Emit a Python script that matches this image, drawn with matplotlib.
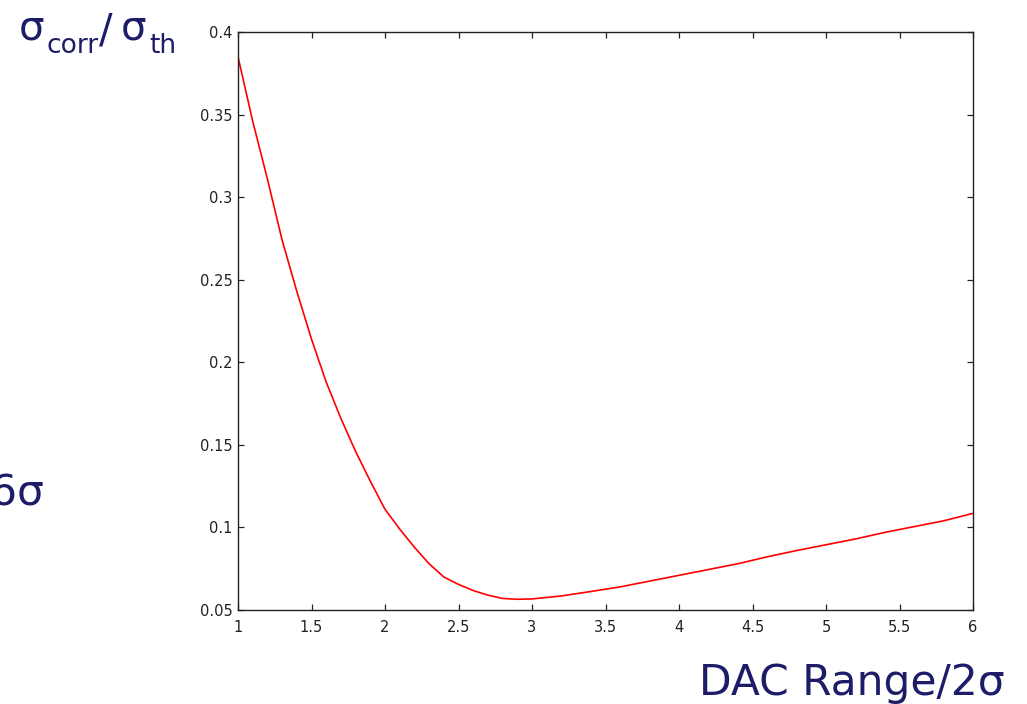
import matplotlib.pyplot as plt
import numpy as np

# relative correction error vs DAC range
dac_range = [1.0, 1.1, 1.2, 1.3, 1.4, 1.5, 1.6, 1.7, 1.8, 1.9,
             2.0, 2.1, 2.2, 2.3, 2.4, 2.5, 2.6, 2.7, 2.8, 2.9,
             3.0, 3.2, 3.4, 3.6, 3.8, 4.0, 4.2, 4.4, 4.6, 4.8,
             5.0, 5.2, 5.4, 5.6, 5.8, 6.0]
sigma_ratio = [0.385, 0.346, 0.311, 0.274, 0.243, 0.214, 0.188, 0.166, 0.146, 0.128,
               0.111, 0.099, 0.088, 0.078, 0.070, 0.0655, 0.0618, 0.059, 0.057, 0.0565,
               0.0567, 0.0585, 0.0612, 0.064, 0.0675, 0.071, 0.0745, 0.078, 0.0822, 0.086,
               0.0895, 0.093, 0.097, 0.1005, 0.104, 0.1085]

xticks = [1, 1.5, 2, 2.5, 3, 3.5, 4, 4.5, 5, 5.5, 6]
yticks = [0.05, 0.1, 0.15, 0.2, 0.25, 0.3, 0.35, 0.4]

navy = '#1c1c68'
W, H = 1027, 704

fig = plt.figure(figsize=(W / 100, H / 100), dpi=100)
ax = fig.add_axes([238 / W, 1 - 610 / H, 735 / W, 578 / H])

ax.plot(dac_range, sigma_ratio, color='red', lw=1.2)

ax.set_xlim(1, 6)
ax.set_ylim(0.05, 0.4)
ax.set_xticks(xticks)
ax.set_xticklabels(['%g' % t for t in xticks])
ax.set_yticks(yticks)
ax.set_yticklabels(['%g' % t for t in yticks])
ax.tick_params(direction='in', length=4.5, width=0.9, colors='#222222',
               labelsize=10.5, top=True, right=True)
ax.tick_params(axis='x', pad=7)
ax.tick_params(axis='y', pad=4)
for s in ax.spines.values():
    s.set_linewidth(1.0)
    s.set_color('#222222')


def px_text(x, y, s, size):
    fig.text(x / W, 1 - y / H, s, color=navy, fontsize=size,
             ha='left', va='baseline')


# y label: sigma_corr / sigma_th, pieces placed by hand
px_text(19, 40, 'σ', 29)
px_text(46, 53, 'corr', 19)
px_text(99, 43, '/', 29)
px_text(121, 40, 'σ', 29)
px_text(149, 53, 'th', 19)

fig.text(1005 / W, 1 - 695 / H, 'DAC Range/2σ', color=navy,
         fontsize=30.5, ha='right', va='baseline')
fig.text(44 / W, 1 - 505 / H, '6σ', color=navy,
         fontsize=30.5, ha='right', va='baseline')

fig.savefig('out.png', dpi=100)
